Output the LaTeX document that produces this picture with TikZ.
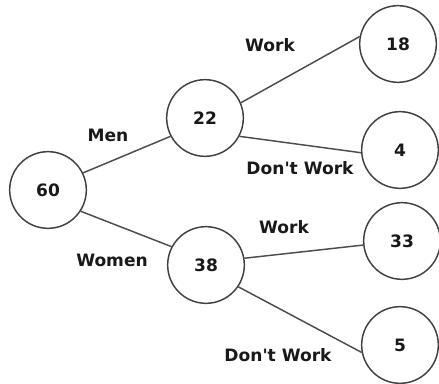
\documentclass[tikz,border=0pt]{standalone}
\usepackage{fontspec}
\setmainfont{DejaVu Sans}
\usetikzlibrary{positioning}

\begin{document}
\begin{tikzpicture}[x=0.75pt, y=-0.75pt, v/.style={circle, draw=black!75, line width=1.1pt, minimum size=57.5pt, inner sep=0pt, font=\fontsize{12.8}{14}\selectfont\bfseries, text=black!90}, lbl/.style={font=\fontsize{12.8}{14}\selectfont\bfseries, text=black!90, inner sep=0pt}, e/.style={draw=black!70, line width=1.1pt}]
\useasboundingbox (0,0) rectangle (439,384);
\node[v] (all) at (48,190) {60};
\node[v] (men) at (205,118) {22};
\node[v] (women) at (206,265) {38};
\node[v] (mw) at (398,44) {18};
\node[v] (mn) at (400,150) {4};
\node[v] (ww) at (402,241) {33};
\node[v] (wn) at (400,345) {5};
\node[lbl] (lmen) at (108,135) {Men};
\node[lbl] (lwomen) at (112,260) {Women};
\node[lbl] (lmw) at (270,45) {Work};
\node[lbl] (lmn) at (300,168) {Don\textquotesingle t Work};
\node[lbl] (lww) at (284,227) {Work};
\node[lbl] (lwn) at (278,355) {Don\textquotesingle t Work};
\draw[e] (all.26) -- (men.208);
\draw[e] (all.-33) -- (women.152);
\draw[e] (men.23) -- (mw.169);
\draw[e] (men.-28) -- (mn.184);
\draw[e] (women.10) -- (ww.186);
\draw[e] (women.-34) -- (wn.191);
\end{tikzpicture}
\end{document}
